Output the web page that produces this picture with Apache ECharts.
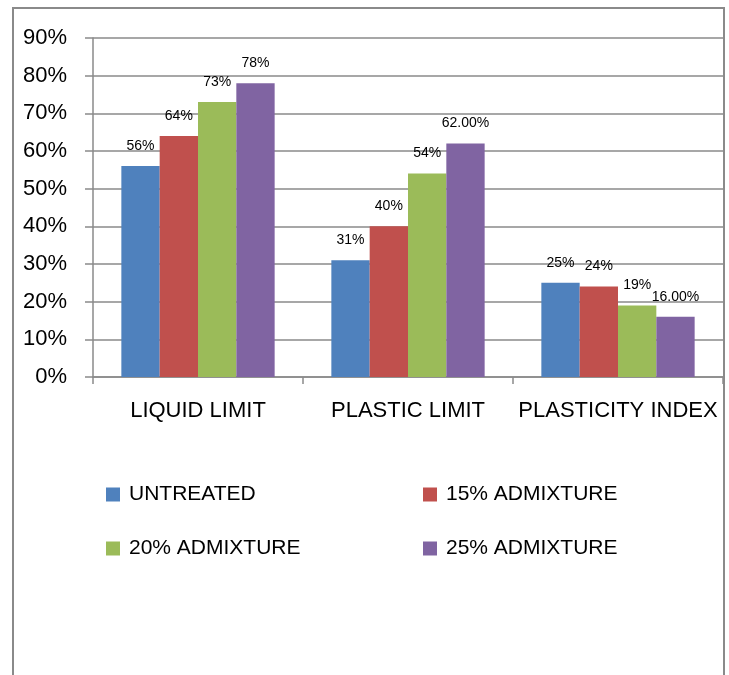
<!DOCTYPE html>
<html>
<head>
<meta charset="utf-8">
<script src="https://cdn.jsdelivr.net/npm/echarts@6/dist/echarts.min.js"></script>
<style>
  html, body { margin: 0; padding: 0; background: #fff; }
  #chart { width: 729px; height: 675px; }
</style>
</head>
<body>
<div id="chart"></div>
<script>
// Soil test properties by admixture content (values in %)
const categories = ['LIQUID LIMIT', 'PLASTIC LIMIT', 'PLASTICITY INDEX'];
const seriesNames = ['UNTREATED', '15% ADMIXTURE', '20% ADMIXTURE', '25% ADMIXTURE'];
const untreated = [56, 31, 25];
const admixture15 = [64, 40, 24];
const admixture20 = [73, 54, 19];
const admixture25 = [78, 62, 16];
// decimal places shown in each value label
const untreatedDecimals = [0, 0, 0];
const admixture15Decimals = [0, 0, 0];
const admixture20Decimals = [0, 0, 0];
const admixture25Decimals = [0, 2, 2];
const yTicks = [0, 10, 20, 30, 40, 50, 60, 70, 80, 90];

const colors = ['#4F81BD', '#C0504D', '#9BBB59', '#8064A2'];
const seriesValues = [untreated, admixture15, admixture20, admixture25];
const seriesDecimals = [untreatedDecimals, admixture15Decimals, admixture20Decimals, admixture25Decimals];
const FONT = 'Liberation Sans';
const gridColor = '#8a8a8a';

const chart = echarts.init(document.getElementById('chart'), null, { renderer: 'canvas' });

const legendPos = [
  { left: 106, top: 484 },
  { left: 423, top: 484 },
  { left: 106, top: 538 },
  { left: 423, top: 538 }
];

chart.setOption({
  animation: false,
  backgroundColor: '#fff',
  color: colors,
  textStyle: { fontFamily: FONT },
  grid: { left: 93, right: 6, top: 38, bottom: 298, containLabel: false },
  legend: seriesNames.map((name, i) => ({
    data: [name],
    left: legendPos[i].left,
    top: legendPos[i].top,
    padding: 0,
    icon: 'rect',
    itemWidth: 14,
    itemHeight: 14,
    itemGap: 8,
    selectedMode: false,
    textStyle: { fontFamily: FONT, fontSize: 21, color: '#000', padding: [0, 0, 0, 4] }
  })),
  xAxis: {
    type: 'category',
    data: categories,
    axisLine: { lineStyle: { color: gridColor, width: 1.5 } },
    axisTick: { show: true, interval: 0, length: 7, alignWithLabel: false, lineStyle: { color: gridColor, width: 1.5 } },
    axisLabel: { interval: 0, hideOverlap: false, fontFamily: FONT, fontSize: 22, color: '#000', margin: 23 }
  },
  yAxis: {
    type: 'value',
    min: yTicks[0],
    max: yTicks[yTicks.length - 1],
    interval: yTicks[1] - yTicks[0],
    axisLine: { show: true, lineStyle: { color: gridColor, width: 1.5 } },
    axisTick: { show: true, length: 8, lineStyle: { color: gridColor, width: 1.5 } },
    splitLine: { lineStyle: { color: gridColor, width: 1.5 } },
    axisLabel: { fontFamily: FONT, fontSize: 22, color: '#000', margin: 26, formatter: '{value}%' }
  },
  graphic: [{
    type: 'rect',
    shape: { x: 13, y: 8, width: 711, height: 700 },
    style: { fill: 'none', stroke: '#8a8a8a', lineWidth: 2 },
    silent: true,
    z: 100
  }],
  series: seriesNames.map((name, i) => ({
    type: 'bar',
    name: name,
    data: seriesValues[i],
    barGap: '0%',
    barCategoryGap: '27%',
    itemStyle: { color: colors[i] },
    label: {
      show: true,
      position: 'top',
      distance: 13,
      fontFamily: FONT,
      fontSize: 14,
      color: '#000',
      formatter: p => p.value.toFixed(seriesDecimals[i][p.dataIndex]) + '%'
    }
  }))
});
</script>
</body>
</html>
